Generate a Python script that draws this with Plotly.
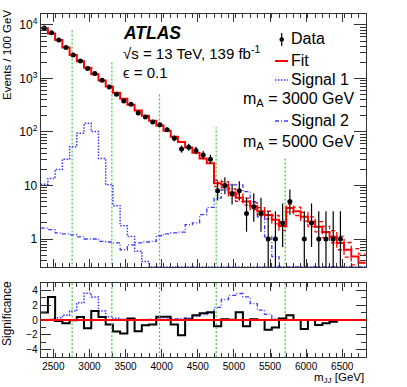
import numpy as np
import plotly.graph_objects as go

FONT = "Liberation Sans, Arial, sans-serif"

# 100 GeV bins in m_JJ
bin_edges = list(range(2325, 6826, 100))

data_counts = [8800, 7175, 5240, 3772, 2745, 2108, 1541, 1242, 924, 692,
               507, 380, 328, 227, 190, 154, 137, 110, 76, 48,
               52, 45, 37, 31, 8, 10, 7, 8, 3, 4,
               3, 1, 1, 2, 5, 0, 1, 2, 1, 1,
               1, 1, 0, 0, 0]

fit_vals = [8710, 6920, 5250, 3800, 2750, 2090, 1585, 1200, 912, 708,
            543, 417, 324, 251, 200, 162, 132, 105, 81, 65,
            51, 41, 32, 26, 11, 10.3, 7.4, 5.9, 5.0, 4.1,
            3.3, 2.8, 2.3, 1.75, 3.8, 3.3, 2.6, 2.1, 1.7, 1.35,
            1.1, 0.84, 0.63, 0.47, 0.36]

# fit uncertainty, drawn from bin 24 onwards
band_start = 24
fit_up = [12.5, 11.8, 8.6, 6.9, 5.8, 4.75, 3.85, 3.3, 2.75, 2.1,
          4.5, 3.95, 3.15, 2.6, 2.12, 1.72, 1.43, 1.12, 0.86, 0.66, 0.52]
fit_dn = [9.6, 9.0, 6.4, 5.05, 4.3, 3.55, 2.83, 2.38, 1.92, 1.45,
          3.2, 2.75, 2.15, 1.7, 1.36, 1.06, 0.85, 0.63, 0.46, 0.33, 0.25]

signal1 = [10.5, 13.5, 20, 31, 53, 95, 145, 102, 32, 10.3,
           4.2, 1.77, 1.12, 0.59, 0.38, 0.3, 0.3, 0.3, 0.3, 0.3,
           0.3, 0.3, 0.3, 0.3, 0.3, 0.3, 0.3, 0.3, 0.3, 0.3,
           0.3, 0.3, 0.3, 0.3, 0.3, 0.3, 0.3, 0.3, 0.3, 0.3,
           0.3, 0.3, 0.3, 0.3, 0.3]

signal2 = [1.6, 1.5, 1.3, 1.25, 1.2, 1.1, 1.0, 1.0, 0.9, 0.88,
           0.85, 0.63, 0.78, 0.85, 0.88, 0.9, 1.15, 1.25, 1.3, 1.35,
           1.85, 2.0, 2.85, 3.9, 5.8, 8.3, 10.3, 10.3, 7.7, 5.0,
           2.6, 1.1, 0.47, 0.3, 0.3, 0.3, 0.3, 0.3, 0.3, 0.3,
           0.3, 0.3, 0.3, 0.3, 0.3]

significance = [1.0, 3.07, -0.13, -0.45, -0.05, 0.4, -1.1, 1.2, 0.4, -0.6,
                -1.55, -1.8, 0.2, -1.5, -0.7, -0.6, 0.45, 0.45, -0.6, -2.05,
                0.1, 0.65, 0.9, 1.05, -0.85, 0.1, 0.05, 1.05, -0.85, 0.1,
                0.0, -1.3, -1.0, 0.2, 0.65, 0.0, -1.2, 0.0, -0.67, -0.45,
                -0.22, 0.0, 0.0, 0.0, 0.0]

sig_s1 = [0.05, 0.1, 0.3, 0.65, 1.2, 2.3, 3.6, 3.07, 1.2, 0.45,
          0.22, 0.1, 0.05, 0.03, 0.02, 0, 0, 0, 0, 0,
          0, 0, 0, 0, 0, 0, 0, 0, 0, 0,
          0, 0, 0, 0, 0, 0, 0, 0, 0, 0,
          0, 0, 0, 0, 0]

sig_s2 = [0.02, 0.02, 0.02, 0.02, 0.02, 0.03, 0.03, 0.03, 0.03, 0.04,
          0.04, 0.04, 0.05, 0.06, 0.07, 0.08, 0.1, 0.12, 0.15, 0.2,
          0.3, 0.5, 0.7, 0.9, 1.7, 2.75, 3.3, 3.55, 3.1, 2.2,
          1.33, 0.75, 0.2, 0.1, 0, 0, 0, 0, 0, 0,
          0, 0, 0, 0, 0]

# search window boundaries (green lines) and their heights in the top panel
green_x = [2760, 3310, 3970, 4755, 5710]
green_top = [8700, 2000, 543, 123, 32.4]

RED = "#ff0000"
BLUE = "#3a3aff"
GREEN = "#44cc44"
DOT = "1.5px,1.5px"
GDOT = "2px,2px"
DASHDOT = "4px,2px,1px,2px"


def step(vals):
    return list(vals) + [vals[-1]]


centers = [(bin_edges[i] + bin_edges[i + 1]) / 2 for i in range(len(data_counts))]
n = np.array(data_counts, dtype=float)
# approximate Poisson (Garwood) interval
lo = np.where(n > 0, n * (1 - 1 / (9 * np.maximum(n, 1)) - 1 / (3 * np.sqrt(np.maximum(n, 1)))) ** 3, 0)
hi = (n + 1) * (1 - 1 / (9 * (n + 1)) + 1 / (3 * np.sqrt(n + 1))) ** 3
data_y = [v if v > 0 else None for v in data_counts]
err_up = [h - v if v > 0 else None for v, h in zip(data_counts, hi)]
err_dn = [v - l if v > 0 else None for v, l in zip(data_counts, lo)]

fig = go.Figure()

# --- top panel
for gx, gt in zip(green_x, green_top):
    fig.add_trace(go.Scatter(x=[gx, gx], y=[0.1, gt], mode="lines",
                             line=dict(color=GREEN, width=1.3, dash=GDOT),
                             xaxis="x", yaxis="y", hoverinfo="skip"))

fig.add_trace(go.Scatter(x=bin_edges, y=step(signal1), mode="lines", line_shape="hv",
                         line=dict(color=BLUE, width=1.5, dash=DOT), xaxis="x", yaxis="y"))
fig.add_trace(go.Scatter(x=bin_edges, y=step(signal2), mode="lines", line_shape="hv",
                         line=dict(color=BLUE, width=1.3, dash=DASHDOT), xaxis="x", yaxis="y"))

band_x = bin_edges[band_start:]
for band in (fit_up, fit_dn):
    fig.add_trace(go.Scatter(x=band_x, y=step(band), mode="lines", line_shape="hv",
                             line=dict(color=RED, width=1.3, dash="4px,3px"), xaxis="x", yaxis="y"))

fig.add_trace(go.Scatter(x=bin_edges, y=step(fit_vals), mode="lines", line_shape="hv",
                         line=dict(color=RED, width=2), xaxis="x", yaxis="y"))

fig.add_trace(go.Scatter(x=centers, y=data_y, mode="markers",
                         marker=dict(color="black", size=5),
                         error_y=dict(type="data", symmetric=False, array=err_up, arrayminus=err_dn,
                                      color="black", thickness=1.2, width=0),
                         xaxis="x", yaxis="y"))

# --- significance panel
for gx in green_x:
    fig.add_shape(type="line", xref="x2", yref="y2 domain", x0=gx, x1=gx, y0=0, y1=1,
                  line=dict(color=GREEN, width=1.3, dash=GDOT))

fig.add_trace(go.Scatter(x=bin_edges, y=step(sig_s1), mode="lines", line_shape="hv",
                         line=dict(color=BLUE, width=1.5, dash=DOT), xaxis="x2", yaxis="y2"))
fig.add_trace(go.Scatter(x=bin_edges, y=step(sig_s2), mode="lines", line_shape="hv",
                         line=dict(color=BLUE, width=1.3, dash=DASHDOT), xaxis="x2", yaxis="y2"))
fig.add_trace(go.Scatter(x=bin_edges, y=step(significance), mode="lines", line_shape="hv",
                         line=dict(color="black", width=2), xaxis="x2", yaxis="y2"))
fig.add_shape(type="line", xref="x2 domain", yref="y2", x0=0, x1=1, y0=0, y1=0,
              line=dict(color=RED, width=2))

# --- axes
W, H = 407, 387
xdom = [40.7 / W, 365.7 / W]
axis_common = dict(showline=True, linecolor="#333", linewidth=1, mirror="ticks",
                   ticks="inside", tickcolor="#333", showgrid=False, zeroline=False,
                   tickfont=dict(family=FONT, size=10, color="black"))

major_y = [1, 10, 100, 1000, 10000]
major_txt = ["1", "10", "10<sup>2</sup>", "10<sup>3</sup>", "10<sup>4</sup>"]
minor_y = [m * 10 ** e for e in range(-1, 5) for m in range(2, 10) if 0.3 <= m * 10 ** e <= 16000]

fig.update_layout(
    width=W, height=H, margin=dict(l=0, r=0, t=0, b=0),
    paper_bgcolor="white", plot_bgcolor="white", showlegend=False,
    xaxis=dict(axis_common, domain=xdom, anchor="y", range=[2325, 6825],
               tick0=2500, dtick=500, ticklen=8, showticklabels=False,
               minor=dict(dtick=100, tick0=2325, ticklen=4, ticks="inside", tickcolor="#333")),
    yaxis=dict(axis_common, domain=[1 - 267 / H, 1 - 14 / H], anchor="x", type="log",
               range=[np.log10(0.3), np.log10(16000)],
               tickmode="array", tickvals=major_y, ticktext=major_txt, ticklen=12,
               tickfont=dict(family=FONT, size=12, color="black"),
               minor=dict(tickmode="array", tickvals=minor_y, ticklen=6, ticks="inside", tickcolor="#333")),
    xaxis2=dict(axis_common, domain=xdom, anchor="y2", range=[2325, 6825],
                tick0=2500, dtick=500, ticklen=8,
                minor=dict(dtick=100, tick0=2325, ticklen=4, ticks="inside", tickcolor="#333")),
    yaxis2=dict(axis_common, domain=[1 - 357.3 / H, 1 - 282.7 / H], anchor="x2",
                range=[-5, 5], tickmode="array", tickvals=[-4, -2, 0, 2, 4],
                ticktext=["\u22124", "\u22122", "0", "2", "4"], ticklen=10,
                minor=dict(dtick=1, ticklen=5, ticks="inside", tickcolor="#333")),
)


def px(x, y):
    return x / W, 1 - y / H


def label(text, x, y, size, xanchor="left", angle=0, **kw):
    ax, ay = px(x, y)
    fig.add_annotation(text=text, x=ax, y=ay, xref="paper", yref="paper",
                       xanchor=xanchor, yanchor="middle", showarrow=False, textangle=angle,
                       font=dict(family=FONT, size=size, color="black", **kw))


label("<b><i>ATLAS</i></b>", 121, 33, 17.5)
label("\u221as = 13 TeV, 139 fb<sup>-1</sup>", 121, 53, 15)
label("\u03f5 = 0.1", 121, 72, 15)

label("Data", 289, 39, 16)
label("Fit", 289, 60, 16)
label("Signal 1", 289, 80, 16)
label("m<sub>A</sub> = 3000 GeV", 356, 100, 16, xanchor="right")
label("Signal 2", 289, 121, 16)
label("m<sub>A</sub> = 5000 GeV", 356, 142, 16, xanchor="right")

label("Events / 100 GeV", 7, 55, 11.5, xanchor="center", angle=-90)
label("Significance", 7, 314, 12, xanchor="center", angle=-90)
label("m<sub>JJ</sub> [GeV]", 366, 378, 11.5, xanchor="right")

# legend symbols
def seg(x0, x1, y, color, width, dash):
    a0, b0 = px(x0, y)
    a1, _ = px(x1, y)
    fig.add_shape(type="line", xref="paper", yref="paper", x0=a0, x1=a1, y0=b0, y1=b0,
                  line=dict(color=color, width=width, dash=dash))


seg(275, 288, 61, RED, 2, "solid")
seg(275, 288, 80, BLUE, 1.5, DOT)
seg(275, 288, 121, BLUE, 1.3, DASHDOT)
a, b0 = px(281.7, 33)
_, b1 = px(281.7, 46)
fig.add_shape(type="line", xref="paper", yref="paper", x0=a, x1=a, y0=b0, y1=b1,
              line=dict(color="black", width=1.2))
cx, cy = px(281.7, 39.5)
fig.add_shape(type="circle", xref="paper", yref="paper",
              x0=cx - 2.3 / W, x1=cx + 2.3 / W, y0=cy - 2.3 / H, y1=cy + 2.3 / H,
              fillcolor="black", line=dict(color="black", width=0))

# page margin would shift the figure by 8px
fig.write_html("out.html", config={"displayModeBar": False},
               post_script="document.body.style.margin='0';")
